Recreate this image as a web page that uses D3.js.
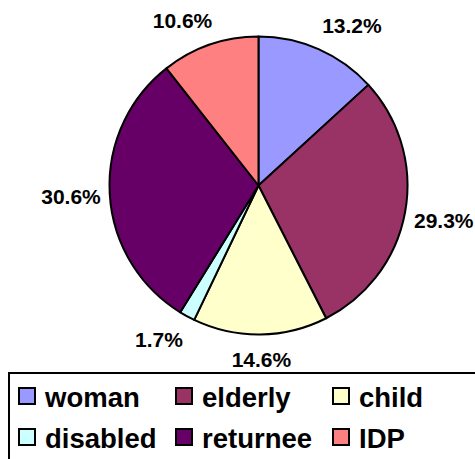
<!DOCTYPE html>
<html><head><meta charset="utf-8">
<script src="https://cdn.jsdelivr.net/npm/d3@7"></script>
<style>html,body{margin:0;padding:0;background:#fff;overflow:hidden}</style>
</head><body>
<svg id="chart" width="475" height="459"></svg>
<script>
const categories = ["woman","elderly","child","disabled","returnee","IDP"];
const values = [13.2, 29.3, 14.6, 1.7, 30.6, 10.6];
const labels = ["13.2%","29.3%","14.6%","1.7%","30.6%","10.6%"];
const colors = ["#9999FF","#993366","#FFFFCC","#CCFFFF","#660066","#FF8080"];

const svg = d3.select("#chart");
const cx = 258.5, cy = 185.5, r = 149;
const font = "'Liberation Sans', Arial, sans-serif";

const data = categories.map((c,i)=>({cat:c, value:values[i], label:labels[i], color:colors[i]}));
const pie = d3.pie().sort(null).value(d=>d.value);
const arcs = pie(data);
const arc = d3.arc().innerRadius(0).outerRadius(r);

const g = svg.append("g").attr("transform",`translate(${cx},${cy})`);
g.selectAll("path").data(arcs).join("path")
  .attr("d", arc)
  .attr("fill", d=>d.data.color)
  .attr("stroke","#000").attr("stroke-width",2).attr("stroke-linejoin","round");

// labels
const fs = 21, anchorR = r + 9, hh = 15.5, k = 2.5;
const clamp = v => Math.max(-1, Math.min(1, v));
arcs.forEach(a=>{
  const th = (a.startAngle + a.endAngle)/2;
  const s = Math.sin(th), c = Math.cos(th);
  const ax = s*anchorR, ay = -c*anchorR;
  const t = g.append("text").text(a.data.label)
    .attr("font-family", font).attr("font-weight","bold").attr("font-size", fs)
    .attr("text-anchor","middle").attr("fill","#000");
  const w = t.node().getComputedTextLength();
  const hw = w/2;
  const lx = ax + hw*clamp(s*k);
  const ly = ay - hh*clamp(c*k);
  t.attr("x", lx).attr("y", ly + 0.716*fs/2);
});

// legend
svg.append("rect").attr("x",9).attr("y",373).attr("width",480).attr("height",120)
  .attr("fill","#fff").attr("stroke","#000").attr("stroke-width",2);
const colX = [18, 175, 332];
const rowY = [387, 428];
data.forEach((d,i)=>{
  const col = i%3, row = Math.floor(i/3);
  const x = colX[col], y = rowY[row];
  svg.append("rect").attr("x",x+1).attr("y",y+1).attr("width",16).attr("height",16)
    .attr("fill",d.color).attr("stroke","#000").attr("stroke-width",2);
  svg.append("text").attr("x", x+27).attr("y", y+20)
    .attr("font-family",font).attr("font-weight","bold").attr("font-size",27.5)
    .attr("fill","#000").text(d.cat);
});
</script>
</body></html>
